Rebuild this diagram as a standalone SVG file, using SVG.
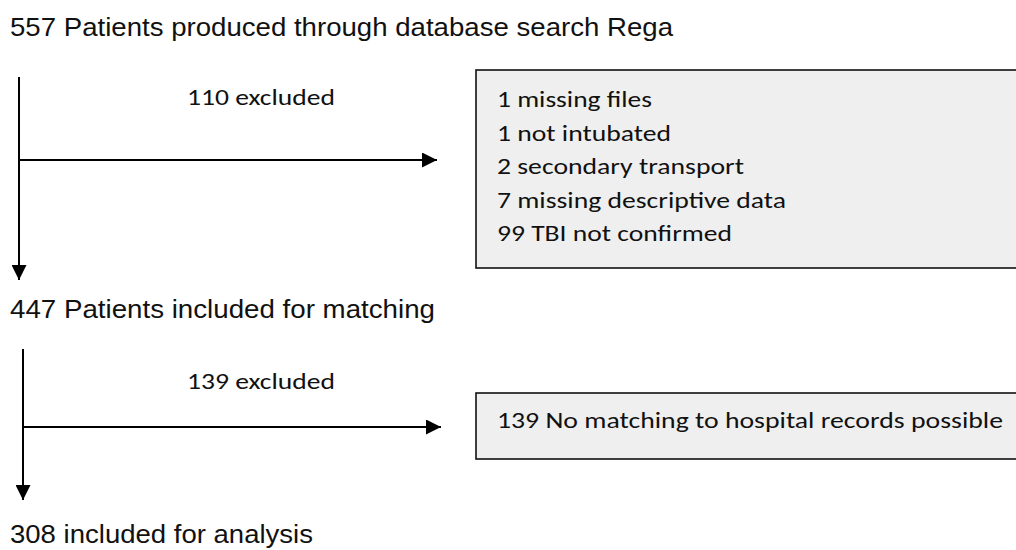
<svg xmlns="http://www.w3.org/2000/svg" width="1016" height="550" viewBox="0 0 1016 550">
<style>
.lbl{font-family:"Liberation Sans",Arial,sans-serif;font-size:26px;fill:#111}
.box{fill:#efefef;stroke:#111;stroke-width:1.6}
.bt{font-family:"Carlito","Open Sans","Liberation Sans",sans-serif;font-size:22.5px;fill:#111}
.ln{stroke:#000;stroke-width:2;fill:none}
</style>
<defs>
<marker id="ah" viewBox="0 0 10 10" refX="10" refY="5" markerWidth="18" markerHeight="15" markerUnits="userSpaceOnUse" orient="auto">
<path d="M0,0 L10,5 L0,10 z" fill="#000"/>
</marker>
</defs>
<rect width="1016" height="550" fill="#fff"/>
<g id="n1"><text class="lbl" x="10" y="36" textLength="663" lengthAdjust="spacingAndGlyphs">557 Patients produced through database search Rega</text></g>
<g id="n2"><text class="lbl" x="10" y="318" textLength="425" lengthAdjust="spacingAndGlyphs">447 Patients included for matching</text></g>
<g id="n3"><text class="lbl" x="10" y="543" textLength="303" lengthAdjust="spacingAndGlyphs">308 included for analysis</text></g>
<g id="b1">
<rect class="box" x="476" y="70" width="560" height="198"/>
<text class="bt" x="497" y="107" textLength="155" lengthAdjust="spacingAndGlyphs">1 missing files</text>
<text class="bt" x="497" y="141" textLength="174" lengthAdjust="spacingAndGlyphs">1 not intubated</text>
<text class="bt" x="497" y="174" textLength="247" lengthAdjust="spacingAndGlyphs">2 secondary transport</text>
<text class="bt" x="497" y="208" textLength="289" lengthAdjust="spacingAndGlyphs">7 missing descriptive data</text>
<text class="bt" x="497" y="241" textLength="235" lengthAdjust="spacingAndGlyphs">99 TBI not confirmed</text>
</g>
<g id="b2">
<rect class="box" x="476" y="393" width="560" height="66"/>
<text class="bt" x="497" y="428" textLength="506" lengthAdjust="spacingAndGlyphs">139 No matching to hospital records possible</text>
</g>
<g id="connectors">
<line class="ln" x1="19" y1="77" x2="19" y2="280" marker-end="url(#ah)"/>
<line class="ln" x1="19" y1="160" x2="437" y2="160" marker-end="url(#ah)"/>
<text class="bt" x="187" y="105" textLength="148" lengthAdjust="spacingAndGlyphs">110 excluded</text>
<line class="ln" x1="23" y1="349" x2="23" y2="500" marker-end="url(#ah)"/>
<line class="ln" x1="23" y1="427" x2="441" y2="427" marker-end="url(#ah)"/>
<text class="bt" x="187" y="389" textLength="148" lengthAdjust="spacingAndGlyphs">139 excluded</text>
</g>
</svg>
